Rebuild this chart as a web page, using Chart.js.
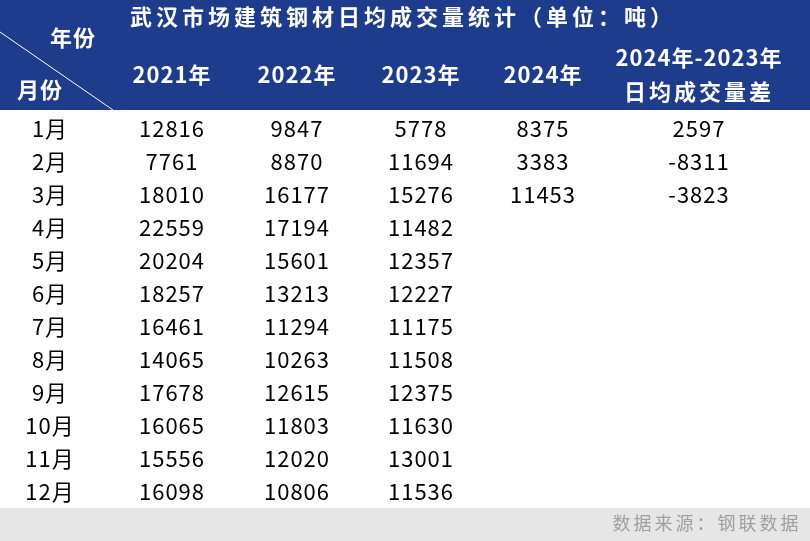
<!DOCTYPE html>
<html><head><meta charset="utf-8">
<script src="https://cdn.jsdelivr.net/npm/chart.js@4"></script>
<style>html,body{margin:0;padding:0;background:#fff}</style>
</head><body>
<canvas id="c" width="810" height="541"></canvas>
<script>
const title = '武汉市场建筑钢材日均成交量统计（单位：吨）';
const months = ['1月','2月','3月','4月','5月','6月','7月','8月','9月','10月','11月','12月'];
const colHeaders = ['2021年','2022年','2023年','2024年'];
const diffHeader = ['2024年-2023年','日均成交量差'];
const v2021 = [12816,7761,18010,22559,20204,18257,16461,14065,17678,16065,15556,16098];
const v2022 = [9847,8870,16177,17194,15601,13213,11294,10263,12615,11803,12020,10806];
const v2023 = [5778,11694,15276,11482,12357,12227,11175,11508,12375,11630,13001,11536];
const v2024 = [8375,3383,11453];
const vDiff = [2597,-8311,-3823];
const source = '数据来源：钢联数据';

const colX = [50,172,297,421,543,699];
const cols = [months, v2021, v2022, v2023, v2024, vDiff];
const datasets = cols.map((arr,ci)=>({
  data: arr.map((v,ri)=>({x:colX[ci], y:ri+1, t:String(v)})),
  pointRadius:0, showLine:false
}));
const FONT = '"Noto Sans CJK SC", "Noto Sans", sans-serif';
const tablePlugin = {
  id:'table',
  beforeDraw(chart){
    const c = chart.ctx;
    c.save();
    c.fillStyle='#fff'; c.fillRect(0,0,810,541);
    c.fillStyle='#1e3c8c'; c.fillRect(0,0,810,110);
    c.strokeStyle='#fff'; c.lineWidth=1;
    c.beginPath(); c.moveTo(0,32); c.lineTo(113,110); c.stroke();
    c.fillStyle='#fff'; c.textAlign='center'; c.textBaseline='middle';
    c.font='bold 22px '+FONT;
    c.letterSpacing='4px';
    c.fillText(title,403,17);
    c.letterSpacing='1px';
    c.fillText('年份',73,38); c.fillText('月份',40,90);
    colHeaders.forEach((h,i)=>c.fillText(h,colX[i+1],75));
    c.fillText(diffHeader[0],colX[5],58);
    c.letterSpacing='3px';
    c.fillText(diffHeader[1],colX[5],92);
    c.fillStyle='#e6e6e6'; c.fillRect(0,508,810,33);
    c.fillStyle='#a0a0a0'; c.font='18px '+FONT;
    c.letterSpacing='3px';
    c.fillText(source,707,523);
    c.restore();
  },
  afterDatasetsDraw(chart){
    const c = chart.ctx;
    c.save(); c.fillStyle='#000'; c.textAlign='center'; c.textBaseline='middle';
    c.font='22px '+FONT;
    c.letterSpacing='1px';
    chart.data.datasets.forEach((ds,i)=>{
      chart.getDatasetMeta(i).data.forEach((p,j)=>c.fillText(ds.data[j].t,p.x,p.y));
    });
    c.restore();
  }
};
new Chart(document.getElementById('c'),{
  type:'scatter',
  data:{datasets},
  options:{responsive:false,animation:false,devicePixelRatio:1,
    layout:{padding:{top:112.5,bottom:32.5,left:0,right:0}},
    plugins:{legend:{display:false},tooltip:{enabled:false}},
    scales:{x:{type:'linear',min:0,max:810,display:false},
            y:{type:'linear',min:0.5,max:12.5,reverse:true,display:false}}},
  plugins:[tablePlugin]
});
</script>
</body></html>
